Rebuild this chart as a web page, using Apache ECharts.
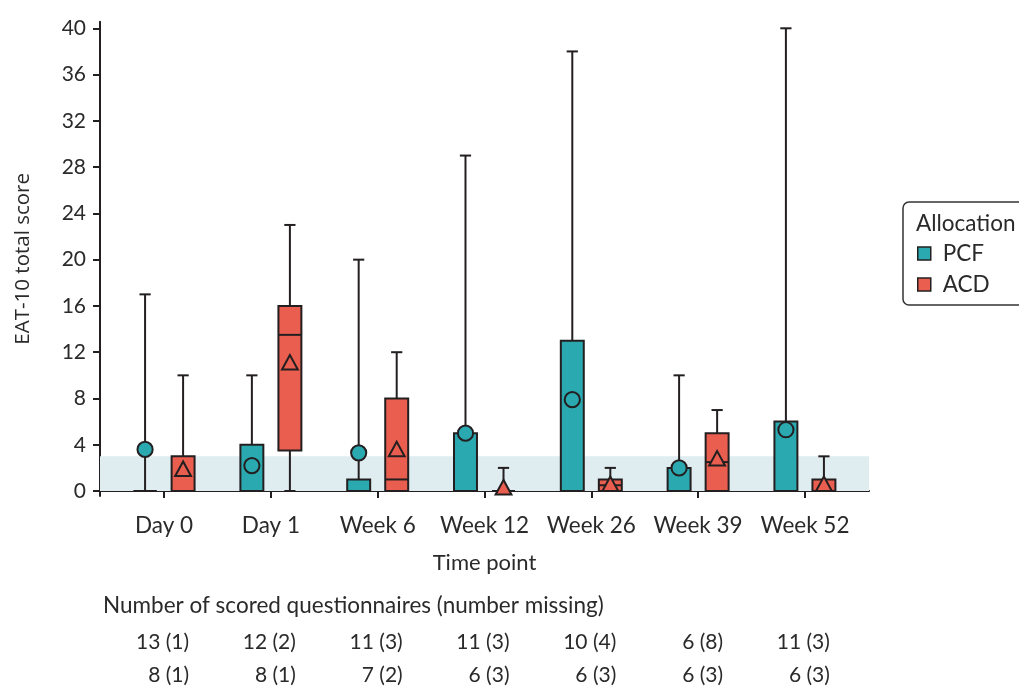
<!DOCTYPE html>
<html>
<head>
<meta charset="utf-8">
<script src="https://cdn.jsdelivr.net/npm/echarts@6/dist/echarts.min.js"></script>
<style>
  html, body { margin: 0; padding: 0; background: #ffffff; }
  #chart { width: 1019px; height: 686px; }
</style>
</head>
<body>
<div id="chart"></div>
<script>
// ---- data ----
const categories = ['Day 0', 'Day 1', 'Week 6', 'Week 12', 'Week 26', 'Week 39', 'Week 52'];
const yTicks = [0, 4, 8, 12, 16, 20, 24, 28, 32, 36, 40];

const pcfMin    = [0, 0, 0, 0, 0, 0, 0];
const pcfQ1     = [0, 0, 0, 0, 0, 0, 0];
const pcfMedian = [0, 0, 0, 0, 0, 0, 0];
const pcfQ3     = [0, 4, 1, 5, 13, 2, 6];
const pcfMax    = [17, 10, 20, 29, 38, 10, 40];
const pcfMean   = [3.6, 2.2, 3.3, 5.0, 7.9, 2.0, 5.3];

const acdMin    = [0, 0, 0, 0, 0, 0, 0];
const acdQ1     = [0, 3.5, 0, 0, 0, 0, 0];
const acdMedian = [0, 13.5, 1, 0, 0.5, 2.5, 0];
const acdQ3     = [3, 16, 8, 0, 1, 5, 1];
const acdMax    = [10, 23, 12, 2, 2, 7, 3];
const acdMean   = [1.9, 11.1, 3.6, 0.3, 0.6, 2.8, 0.6];

const bandRange = [0, 3];

const pcfCounts = ['13 (1)', '12 (2)', '11 (3)', '11 (3)', '10 (4)', '6 (8)', '11 (3)'];
const acdCounts = ['8 (1)', '8 (1)', '7 (2)', '6 (3)', '6 (3)', '6 (3)', '6 (3)'];

// ---- style ----
const PCF_COLOR = '#2ba9b0';
const ACD_COLOR = '#ea5e4f';
const INK = '#231f20';
const TEXT = '#2a2a2a';
const FONT = 'Lato';
const DODGE = 0.178;
const BOX_W = 0.215;
const CAP_W = 0.105;
const TABLE_SHIFT = 0.234;

function buildData(mn, q1, md, q3, mx, mean) {
  return categories.map((c, i) => [i + 1, mn[i], q1[i], md[i], q3[i], mx[i], mean[i]]);
}

function makeRender(offset, shape, color) {
  return function (params, api) {
    const x = api.value(0) + offset;
    const vMin = api.value(1), vQ1 = api.value(2), vMed = api.value(3),
          vQ3 = api.value(4), vMax = api.value(5), vMean = api.value(6);
    const cx = api.coord([x, 0])[0];
    const hw = api.size([BOX_W, 0])[0] / 2;
    const cw = api.size([CAP_W, 0])[0] / 2;
    const Y = v => api.coord([x, v])[1];
    const lineStyle = { stroke: INK, lineWidth: 2 };
    const children = [];
    if (vMax > vQ3) {
      children.push({ type: 'line', shape: { x1: cx, y1: Y(vQ3), x2: cx, y2: Y(vMax) }, style: lineStyle });
      children.push({ type: 'line', shape: { x1: cx - cw, y1: Y(vMax), x2: cx + cw, y2: Y(vMax) }, style: lineStyle });
    }
    if (vMin < vQ1) {
      children.push({ type: 'line', shape: { x1: cx, y1: Y(vQ1), x2: cx, y2: Y(vMin) }, style: lineStyle });
      children.push({ type: 'line', shape: { x1: cx - cw, y1: Y(vMin), x2: cx + cw, y2: Y(vMin) }, style: lineStyle });
    }
    const yTop = Y(vQ3), yBot = Y(vQ1);
    children.push({ type: 'rect', shape: { x: cx - hw, y: yTop, width: 2 * hw, height: Math.max(yBot - yTop, 0) },
      style: { fill: color, stroke: INK, lineWidth: 2 } });
    children.push({ type: 'line', shape: { x1: cx - hw, y1: Y(vMed), x2: cx + hw, y2: Y(vMed) }, style: lineStyle });
    const my = Y(vMean);
    if (shape === 'circle') {
      children.push({ type: 'circle', shape: { cx: cx, cy: my, r: 7.6 }, style: { fill: color, stroke: INK, lineWidth: 2 } });
    } else {
      children.push({ type: 'polygon', shape: { points: [[cx, my - 7.6], [cx - 7.9, my + 6.9], [cx + 7.9, my + 6.9]] },
        style: { fill: color, stroke: INK, lineWidth: 2, lineJoin: 'miter' } });
    }
    return { type: 'group', children: children };
  };
}

const catTicks = categories.map((c, i) => i + 1);
const tableTicks = categories.map((c, i) => i + 1 + TABLE_SHIFT);
const tableIndex = v => Math.round(v - TABLE_SHIFT) - 1;

const chart = echarts.init(document.getElementById('chart'), null, { renderer: 'canvas' });

const option = {
  backgroundColor: '#ffffff',
  animation: false,
  textStyle: { fontFamily: FONT, color: TEXT },
  title: [
    { text: 'Allocation', left: 916, top: 212, padding: 0,
      textStyle: { fontFamily: FONT, fontSize: 22.5, fontWeight: 'normal', color: TEXT } },
    { text: 'Number of scored questionnaires (number missing)', left: 103, top: 594, padding: 0,
      textStyle: { fontFamily: FONT, fontSize: 22.5, fontWeight: 'normal', color: TEXT } }
  ],
  legend: {
    data: ['PCF', 'ACD'],
    orient: 'vertical',
    left: 903, top: 202,
    icon: 'rect',
    itemWidth: 13, itemHeight: 13, itemGap: 8,
    padding: [40, 90, 9, 14],
    borderColor: '#333333', borderWidth: 1.5, borderRadius: 6,
    itemStyle: { borderColor: INK, borderWidth: 1.5 },
    textStyle: { fontFamily: FONT, fontSize: 22.5, color: TEXT, padding: [0, 0, 0, 7] },
    selectedMode: false
  },
  grid: { left: 100, right: 150, top: 21.7, bottom: 189.3, containLabel: false },
  xAxis: [
    {
      type: 'value', min: 0.4, max: 7.6, position: 'bottom',
      name: 'Time point', nameLocation: 'middle', nameGap: 56,
      nameTextStyle: { fontFamily: FONT, fontSize: 22, color: TEXT },
      axisLine: { show: true, lineStyle: { color: INK, width: 2 } },
      axisTick: { show: true, length: 7, lineStyle: { color: INK, width: 2 }, customValues: catTicks },
      axisLabel: { customValues: catTicks, margin: 18, fontFamily: FONT, fontSize: 22.5, color: TEXT,
        formatter: v => categories[Math.round(v) - 1] },
      splitLine: { show: false }
    },
    {
      type: 'value', min: 0.4, max: 7.6, position: 'bottom', offset: 136,
      axisLine: { show: false }, axisTick: { show: false }, splitLine: { show: false },
      axisLabel: { customValues: tableTicks, margin: 0, align: 'right', fontFamily: FONT, fontSize: 21, color: TEXT,
        formatter: v => pcfCounts[tableIndex(v)] }
    },
    {
      type: 'value', min: 0.4, max: 7.6, position: 'bottom', offset: 169,
      axisLine: { show: false }, axisTick: { show: false }, splitLine: { show: false },
      axisLabel: { customValues: tableTicks, margin: 0, align: 'right', fontFamily: FONT, fontSize: 21, color: TEXT,
        formatter: v => acdCounts[tableIndex(v)] }
    }
  ],
  yAxis: {
    type: 'value', min: -0.43, max: 40.57,
    name: 'EAT-10 total score', nameLocation: 'middle', nameGap: 66,
    nameTextStyle: { fontFamily: 'Open Sans', fontSize: 20.5, color: TEXT },
    axisLine: { show: true, lineStyle: { color: INK, width: 2 } },
    axisTick: { show: true, length: 7, lineStyle: { color: INK, width: 2 }, customValues: yTicks },
    axisLabel: { customValues: yTicks, margin: 14, fontFamily: FONT, fontSize: 21, color: TEXT },
    splitLine: { show: false }
  },
  series: [
    {
      name: 'PCF', type: 'custom', xAxisIndex: 0, yAxisIndex: 0, z: 3,
      itemStyle: { color: PCF_COLOR },
      renderItem: makeRender(-DODGE, 'circle', PCF_COLOR),
      encode: { x: 0, y: [1, 5] },
      data: buildData(pcfMin, pcfQ1, pcfMedian, pcfQ3, pcfMax, pcfMean),
      markArea: {
        silent: true, z: 1,
        itemStyle: { color: '#dfecf0' },
        data: [[{ yAxis: bandRange[0] }, { yAxis: bandRange[1] }]]
      }
    },
    {
      name: 'ACD', type: 'custom', xAxisIndex: 0, yAxisIndex: 0, z: 3,
      itemStyle: { color: ACD_COLOR },
      renderItem: makeRender(DODGE, 'triangle', ACD_COLOR),
      encode: { x: 0, y: [1, 5] },
      data: buildData(acdMin, acdQ1, acdMedian, acdQ3, acdMax, acdMean)
    }
  ]
};
chart.setOption(option);
</script>
</body>
</html>
